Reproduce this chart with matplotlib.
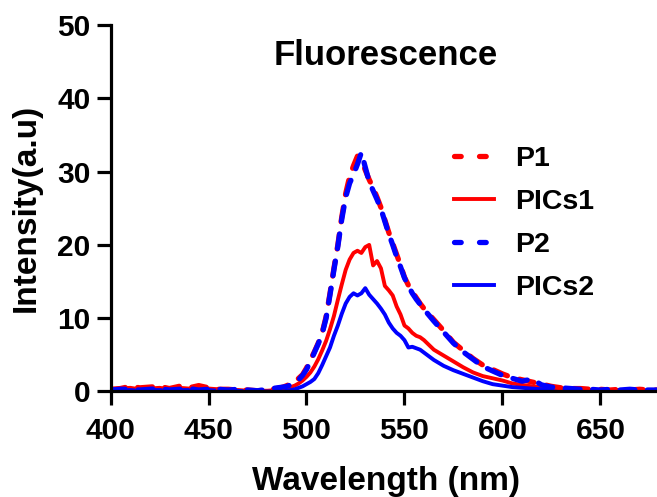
import matplotlib
matplotlib.use("Agg")
import matplotlib.pyplot as plt
from matplotlib.lines import Line2D

plt.rcParams['font.family'] = ['Liberation Sans', 'DejaVu Sans']
plt.rcParams['font.weight'] = 'bold'

# Wavelength grid (nm)
wavelength = (list(range(400, 486, 5)) + list(range(488, 561, 2))
              + list(range(565, 681, 5)))

p1 = [0.3, 0.4, 0.7, 0.5, 0.6, 0.7, 0.4, 0.7, 0.5, 0.8, 0.5, 0.3, 0.3, 0.2, 0.2, 0.1, 0.2, 0.4,
      0.6, 0.8, 1.1, 1.4, 1.8, 2.3, 3.2, 4.3, 5.4, 6.6, 8.0, 10.2, 13.4, 16.8, 20.0, 23.8, 27.0,
      29.3, 30.8, 32.1, 31.6, 30.2, 28.9, 27.8, 26.5, 25.1, 23.4, 21.7, 20.2, 18.7, 17.2, 15.6,
      14.5, 13.6, 12.8, 12.0, 11.3,
      9.8, 8.3, 6.7, 5.6, 4.5, 3.6, 3.0, 2.4, 1.9, 1.6, 1.3, 1.0, 0.7, 0.5, 0.4, 0.4, 0.3, 0.3,
      0.2, 0.3, 0.2, 0.3, 0.2, 0.2]

pics1 = [0.3, 0.4, 0.5, 0.3, 0.4, 0.5, 0.3, 0.5, 0.4, 0.6, 0.4, 0.3, 0.2, 0.2, 0.1, 0.1, 0.1, 0.2,
         0.3, 0.4, 0.6, 0.8, 1.1, 1.5, 2.0, 2.6, 3.4, 4.4, 5.6, 6.9, 8.5, 10.3, 12.5, 14.6, 16.6,
         18.0, 18.9, 19.2, 18.9, 19.7, 20.0, 17.2, 17.8, 16.8, 14.4, 13.8, 13.1, 11.6, 10.5, 9.0,
         8.6, 8.0, 7.6, 7.4, 7.0,
         5.7, 4.9, 4.1, 3.3, 2.6, 2.1, 1.8, 1.5, 1.1, 0.9, 0.7, 0.6, 0.5, 0.4, 0.3, 0.3, 0.2, 0.2,
         0.2, 0.2, 0.1, 0.2, 0.1, 0.1]

p2 = [0.2, 0.3, 0.3, 0.2, 0.3, 0.4, 0.2, 0.3, 0.4, 0.2, 0.3, 0.3, 0.2, 0.3, 0.2, 0.1, 0.3, 0.5,
      0.6, 0.7, 0.9, 1.2, 1.6, 2.2, 3.0, 4.1, 5.3, 6.5, 7.9, 10.0, 13.2, 16.6, 19.8, 23.5, 26.5,
      28.4, 29.6, 31.0, 32.6, 30.6, 28.6, 27.4, 26.2, 24.9, 23.2, 21.5, 20.0, 18.4, 17.0, 15.5,
      14.4, 13.4, 12.6, 11.9, 11.2,
      9.6, 8.1, 6.6, 5.4, 4.4, 3.4, 2.8, 2.2, 1.8, 1.4, 1.7, 0.9, 0.6, 0.5, 0.4, 0.3, 0.3, 0.2,
      0.3, 0.2, 0.3, 0.2, 0.2, 0.2]

pics2 = [0.1, 0.2, 0.2, 0.1, 0.2, 0.2, 0.1, 0.2, 0.2, 0.1, 0.2, 0.1, 0.1, 0.1, 0.0, 0.0, 0.0, 0.0,
         0.1, 0.1, 0.2, 0.3, 0.5, 0.7, 1.0, 1.3, 1.7, 2.5, 3.6, 4.8, 6.0, 7.6, 9.0, 10.6, 12.0,
         12.9, 13.4, 13.1, 13.4, 14.1, 13.2, 12.6, 12.0, 11.3, 10.5, 9.4, 8.6, 8.0, 7.6, 7.0,
         6.0, 6.1, 5.9, 5.7, 5.3,
         4.3, 3.5, 2.9, 2.4, 1.9, 1.4, 1.0, 0.8, 0.6, 0.5, 0.4, 0.3, 0.3, 0.2, 0.2, 0.2, 0.1, 0.1,
         0.1, 0.1, 0.1, 0.1, 0.1, 0.1]

labels = ['P1', 'PICs1', 'P2', 'PICs2']
x_ticks = [400, 450, 500, 550, 600, 650]
y_ticks = [0, 10, 20, 30, 40, 50]

RED = '#FF0000'
BLUE = '#0000FF'
dash_lw = 3.8
solid_lw = 2.8
plot_dash = (0, (2.8, 2.4))

fig = plt.figure(figsize=(6.57, 4.97), dpi=100)
ax = fig.add_axes([0.1683, 0.2123, 0.835, 0.7374])

ax.plot(wavelength, pics1, color=RED, lw=solid_lw, solid_joinstyle='round')
ax.plot(wavelength, pics2, color=BLUE, lw=solid_lw, solid_joinstyle='round')
ax.plot(wavelength, p1, color=RED, lw=dash_lw, linestyle=plot_dash, dash_capstyle='round')
ax.plot(wavelength, p2, color=BLUE, lw=dash_lw, linestyle=plot_dash, dash_capstyle='round')

ax.set_xlim(400, 680)
ax.set_ylim(0, 50)
ax.set_xticks(x_ticks)
ax.set_yticks(y_ticks)

for s in ['top', 'right']:
    ax.spines[s].set_visible(False)
for s in ['left', 'bottom']:
    ax.spines[s].set_linewidth(2.3)
ax.tick_params(axis='both', direction='out', length=10, width=2.3, labelsize=21.5)
ax.tick_params(axis='x', pad=8.5)
ax.tick_params(axis='y', pad=4.3)

ax.set_xlabel('Wavelength (nm)', fontsize=24, fontweight='bold', va='center')
ax.xaxis.set_label_coords(0.5016, -0.246)
ax.set_ylabel('Intensity(a.u)', fontsize=24, fontweight='bold', va='center')
ax.yaxis.set_label_coords(-0.153, 0.502)

ax.text(540.2, 45.9, 'Fluorescence', ha='center', va='center', fontsize=25, fontweight='bold')

leg_dash = (0, (1.27, 3.47))
handles = [
    Line2D([], [], color=RED, lw=dash_lw, linestyle=leg_dash, dash_capstyle='round'),
    Line2D([], [], color=RED, lw=solid_lw),
    Line2D([], [], color=BLUE, lw=dash_lw, linestyle=leg_dash, dash_capstyle='round'),
    Line2D([], [], color=BLUE, lw=solid_lw),
]
ax.legend(handles, labels, loc='center left', bbox_to_anchor=(0.626, 0.458), frameon=False,
          fontsize=20.5, handlelength=1.4, handletextpad=0.75, labelspacing=0.6,
          borderpad=0, borderaxespad=0)

fig.savefig('out.png', dpi=100)
